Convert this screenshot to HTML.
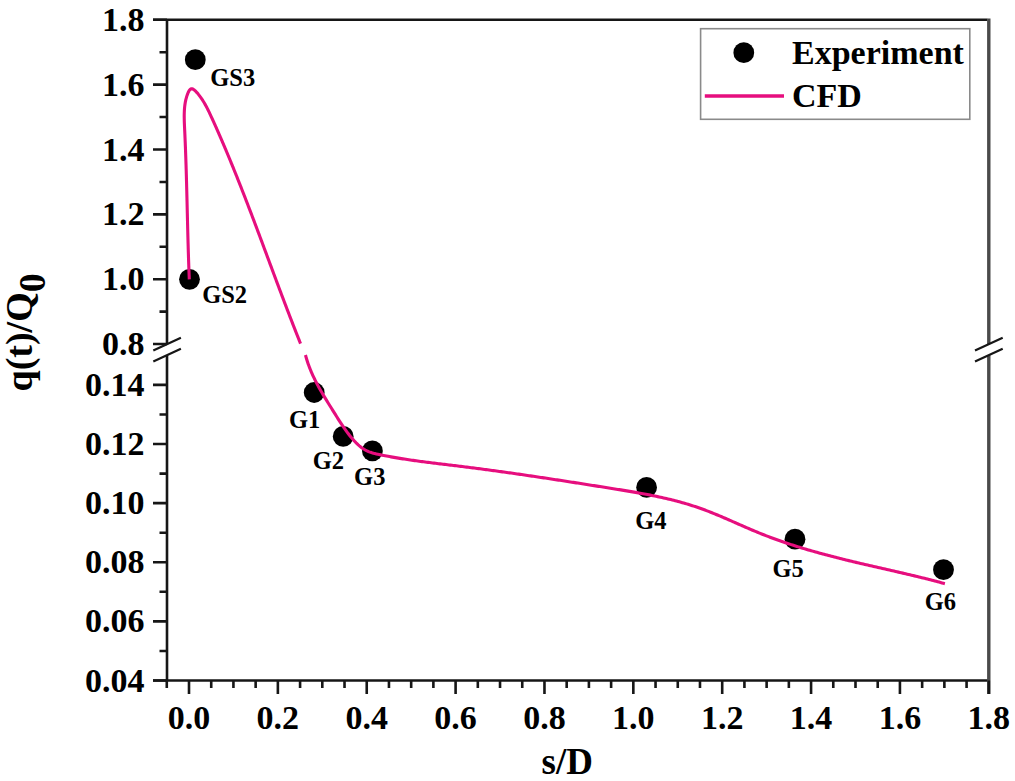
<!DOCTYPE html>
<html><head><meta charset="utf-8"><style>
html,body{margin:0;padding:0;background:#fff;}
body{width:1015px;height:781px;overflow:hidden;}
svg{display:block;}
text{font-family:"Liberation Serif", serif;font-weight:bold;fill:#000;}
.tl{font-size:34px;}
.at{font-size:37px;}
.sub{font-size:38px;}
.yt{font-size:38px;}
.pl{font-size:24.5px;}
.lg{font-size:34px;}
</style></head><body>
<svg width="1015" height="781" viewBox="0 0 1015 781">
<rect width="1015" height="781" fill="#fff"/>
<path d="M153 19.80 H987.30" fill="none" stroke="#161616" stroke-width="2.6"/>
<path d="M988.80 18.50 V344.05" fill="none" stroke="#4a4a4a" stroke-width="3.4"/>
<path d="M167.00 19.80 V344.05" fill="none" stroke="#161616" stroke-width="2.6"/>
<path d="M167.00 355.34 V680.50" fill="none" stroke="#161616" stroke-width="2.6"/>
<path d="M153 680.50 H988.80" fill="none" stroke="#161616" stroke-width="2.6"/>
<path d="M988.80 355.34 V694" fill="none" stroke="#4a4a4a" stroke-width="3.4"/>
<path d="M153 19.80 H167.00 M153 84.65 H167.00 M153 149.50 H167.00 M153 214.35 H167.00 M153 279.20 H167.00 M153 344.05 H167.00 M159.5 52.23 H167.00 M159.5 117.07 H167.00 M159.5 181.93 H167.00 M159.5 246.78 H167.00 M159.5 311.62 H167.00 M153 384.90 H167.00 M153 444.02 H167.00 M153 503.14 H167.00 M153 562.26 H167.00 M153 621.38 H167.00 M153 680.50 H167.00 M159.5 414.46 H167.00 M159.5 473.58 H167.00 M159.5 532.70 H167.00 M159.5 591.82 H167.00 M159.5 650.94 H167.00" fill="none" stroke="#161616" stroke-width="2.6"/>
<path d="M166.78 680.50 V688 M189.00 680.50 V694 M211.22 680.50 V688 M233.43 680.50 V688 M255.65 680.50 V688 M277.87 680.50 V694 M300.08 680.50 V688 M322.30 680.50 V688 M344.52 680.50 V688 M366.73 680.50 V694 M388.95 680.50 V688 M411.17 680.50 V688 M433.38 680.50 V688 M455.60 680.50 V694 M477.82 680.50 V688 M500.03 680.50 V688 M522.25 680.50 V688 M544.47 680.50 V694 M566.68 680.50 V688 M588.90 680.50 V688 M611.12 680.50 V688 M633.33 680.50 V694 M655.55 680.50 V688 M677.77 680.50 V688 M699.98 680.50 V688 M722.20 680.50 V694 M744.42 680.50 V688 M766.63 680.50 V688 M788.85 680.50 V688 M811.07 680.50 V694 M833.28 680.50 V688 M855.50 680.50 V688 M877.72 680.50 V688 M899.93 680.50 V694 M922.15 680.50 V688 M944.37 680.50 V688 M966.58 680.50 V688 M988.80 680.50 V694" fill="none" stroke="#161616" stroke-width="2.6"/>
<path d="M153.3 350.6 L180.9 337.8 M153.3 361.5 L180.9 348.7" fill="none" stroke="#161616" stroke-width="2.2"/>
<path d="M975.0 350.6 L1002.7 337.8 M975.0 361.5 L1002.7 348.7" fill="none" stroke="#161616" stroke-width="2.2"/>
<text x="144.5" y="30.80" text-anchor="end" class="tl">1.8</text>
<text x="144.5" y="95.65" text-anchor="end" class="tl">1.6</text>
<text x="144.5" y="160.50" text-anchor="end" class="tl">1.4</text>
<text x="144.5" y="225.35" text-anchor="end" class="tl">1.2</text>
<text x="144.5" y="290.20" text-anchor="end" class="tl">1.0</text>
<text x="144.5" y="355.05" text-anchor="end" class="tl">0.8</text>
<text x="144.5" y="395.90" text-anchor="end" class="tl">0.14</text>
<text x="144.5" y="455.02" text-anchor="end" class="tl">0.12</text>
<text x="144.5" y="514.14" text-anchor="end" class="tl">0.10</text>
<text x="144.5" y="573.26" text-anchor="end" class="tl">0.08</text>
<text x="144.5" y="632.38" text-anchor="end" class="tl">0.06</text>
<text x="144.5" y="691.50" text-anchor="end" class="tl">0.04</text>
<text x="189.00" y="728.5" text-anchor="middle" class="tl">0.0</text>
<text x="277.87" y="728.5" text-anchor="middle" class="tl">0.2</text>
<text x="366.73" y="728.5" text-anchor="middle" class="tl">0.4</text>
<text x="455.60" y="728.5" text-anchor="middle" class="tl">0.6</text>
<text x="544.47" y="728.5" text-anchor="middle" class="tl">0.8</text>
<text x="633.33" y="728.5" text-anchor="middle" class="tl">1.0</text>
<text x="722.20" y="728.5" text-anchor="middle" class="tl">1.2</text>
<text x="811.07" y="728.5" text-anchor="middle" class="tl">1.4</text>
<text x="899.93" y="728.5" text-anchor="middle" class="tl">1.6</text>
<text x="988.80" y="728.5" text-anchor="middle" class="tl">1.8</text>
<text x="567.3" y="773.9" text-anchor="middle" class="at">s/D</text>
<text transform="translate(31.5 391.5) rotate(-90)" class="yt">q(t)/Q<tspan class="sub" dy="13">0</tspan></text>
<circle cx="195.3" cy="59.7" r="10.4" fill="#000"/>
<circle cx="189.5" cy="279.3" r="10.4" fill="#000"/>
<circle cx="314.2" cy="392.5" r="10.4" fill="#000"/>
<circle cx="343.2" cy="436.4" r="10.4" fill="#000"/>
<circle cx="372.4" cy="450.9" r="10.4" fill="#000"/>
<circle cx="646.6" cy="487.4" r="10.4" fill="#000"/>
<circle cx="795.0" cy="539.2" r="10.4" fill="#000"/>
<circle cx="943.5" cy="569.7" r="10.4" fill="#000"/>
<text x="210.3" y="85.9" class="pl">GS3</text>
<text x="202.2" y="303.2" class="pl">GS2</text>
<text x="288.9" y="428.4" class="pl">G1</text>
<text x="312.7" y="469.0" class="pl">G2</text>
<text x="354.1" y="485.1" class="pl">G3</text>
<text x="635.2" y="528.5" class="pl">G4</text>
<text x="772.4" y="576.5" class="pl">G5</text>
<text x="924.8" y="609.6" class="pl">G6</text>
<path d="M189.29 279.43 L189.23 277.90 L189.17 276.36 L189.11 274.83 L189.05 273.30 L188.99 271.78 L188.94 270.25 L188.88 268.73 L188.83 267.21 L188.77 265.69 L188.72 264.17 L188.67 262.66 L188.62 261.14 L188.57 259.63 L188.52 258.12 L188.47 256.61 L188.43 255.11 L188.38 253.60 L188.33 252.10 L188.29 250.60 L188.24 249.10 L188.20 247.60 L188.16 246.10 L188.12 244.60 L188.07 243.11 L188.03 241.61 L187.99 240.12 L187.95 238.63 L187.91 237.14 L187.87 235.65 L187.83 234.16 L187.80 232.68 L187.76 231.19 L187.72 229.70 L187.68 228.22 L187.64 226.73 L187.61 225.25 L187.57 223.77 L187.53 222.29 L187.50 220.80 L187.46 219.32 L187.43 217.84 L187.39 216.36 L187.36 214.88 L187.32 213.40 L187.28 211.92 L187.25 210.44 L187.21 208.97 L187.18 207.49 L187.14 206.01 L187.11 204.53 L187.07 203.05 L187.04 201.57 L187.00 200.09 L186.96 198.61 L186.93 197.13 L186.89 195.66 L186.85 194.18 L186.82 192.70 L186.78 191.22 L186.74 189.73 L186.70 188.25 L186.66 186.77 L186.62 185.29 L186.59 183.81 L186.55 182.32 L186.50 180.84 L186.46 179.35 L186.42 177.87 L186.38 176.38 L186.34 174.89 L186.29 173.40 L186.25 171.91 L186.21 170.42 L186.16 168.93 L186.11 167.43 L186.07 165.94 L186.02 164.44 L185.97 162.95 L185.92 161.45 L185.87 159.95 L185.82 158.45 L185.77 156.95 L185.72 155.44 L185.66 153.94 L185.61 152.43 L185.55 150.92 L185.50 149.41 L185.44 147.90 L185.38 146.38 L185.32 144.87 L185.26 143.35 L185.20 141.83 L185.13 140.30 L185.07 138.78 L185.00 137.25 L184.94 135.73 L184.87 134.20 L184.80 132.66 L184.73 131.13 L184.65 129.59 L184.58 128.05 L184.51 126.51 L184.44 124.97 L184.38 123.43 L184.32 121.89 L184.28 120.35 L184.25 118.81 L184.23 117.28 L184.22 115.75 L184.24 114.23 L184.28 112.71 L184.34 111.20 L184.42 109.69 L184.54 108.20 L184.68 106.71 L184.85 105.24 L185.06 103.77 L185.30 102.31 L185.58 100.87 L185.90 99.44 L186.27 98.03 L186.67 96.63 L187.13 95.24 L187.63 93.87 L188.18 92.52 L188.80 91.27 L189.47 90.18 L190.22 89.34 L191.04 88.84 L191.95 88.76 L192.93 89.07 L193.97 89.71 L195.03 90.60 L196.10 91.68 L197.16 92.87 L198.19 94.10 L199.18 95.35 L200.12 96.61 L201.03 97.88 L201.91 99.16 L202.76 100.45 L203.57 101.75 L204.36 103.07 L205.12 104.39 L205.86 105.71 L206.58 107.05 L207.27 108.39 L207.95 109.74 L208.62 111.09 L209.27 112.44 L209.92 113.80 L210.55 115.16 L211.18 116.53 L211.80 117.89 L212.43 119.26 L213.05 120.62 L213.66 121.99 L214.28 123.36 L214.89 124.73 L215.51 126.10 L216.12 127.47 L216.72 128.84 L217.33 130.21 L217.94 131.58 L218.54 132.95 L219.14 134.32 L219.74 135.70 L220.34 137.07 L220.93 138.45 L221.53 139.82 L222.12 141.20 L222.71 142.58 L223.30 143.95 L223.89 145.33 L224.48 146.71 L225.06 148.09 L225.65 149.47 L226.23 150.85 L226.81 152.23 L227.39 153.61 L227.96 154.99 L228.54 156.37 L229.11 157.76 L229.69 159.14 L230.26 160.52 L230.83 161.91 L231.40 163.29 L231.96 164.68 L232.53 166.06 L233.10 167.45 L233.66 168.84 L234.22 170.22 L234.78 171.61 L235.34 173.00 L235.90 174.39 L236.46 175.78 L237.02 177.17 L237.57 178.56 L238.12 179.95 L238.68 181.34 L239.23 182.73 L239.78 184.12 L240.33 185.51 L240.88 186.90 L241.43 188.29 L241.97 189.69 L242.52 191.08 L243.06 192.47 L243.61 193.87 L244.15 195.26 L244.69 196.66 L245.23 198.05 L245.77 199.45 L246.31 200.84 L246.85 202.24 L247.39 203.63 L247.93 205.03 L248.46 206.43 L249.00 207.82 L249.54 209.22 L250.07 210.62 L250.60 212.02 L251.14 213.41 L251.67 214.81 L252.20 216.21 L252.73 217.61 L253.26 219.01 L253.79 220.41 L254.32 221.81 L254.85 223.21 L255.38 224.61 L255.91 226.01 L256.43 227.41 L256.96 228.81 L257.49 230.21 L258.01 231.61 L258.54 233.01 L259.07 234.41 L259.59 235.81 L260.12 237.21 L260.64 238.61 L261.16 240.01 L261.69 241.42 L262.21 242.82 L262.74 244.22 L263.26 245.62 L263.78 247.02 L264.30 248.43 L264.83 249.83 L265.35 251.23 L265.87 252.63 L266.40 254.03 L266.92 255.44 L267.44 256.84 L267.96 258.24 L268.48 259.64 L269.01 261.05 L269.53 262.45 L270.05 263.85 L270.57 265.25 L271.10 266.66 L271.62 268.06 L272.14 269.46 L272.66 270.87 L273.19 272.27 L273.71 273.67 L274.23 275.07 L274.76 276.48 L275.28 277.88 L275.81 279.28 L276.33 280.68 L276.86 282.08 L277.38 283.49 L277.91 284.89 L278.43 286.29 L278.96 287.69 L279.48 289.09 L280.01 290.50 L280.54 291.90 L281.07 293.30 L281.59 294.70 L282.12 296.10 L282.65 297.50 L283.18 298.90 L283.71 300.30 L284.24 301.70 L284.78 303.10 L285.31 304.50 L285.84 305.90 L286.37 307.30 L286.91 308.70 L287.44 310.10 L287.98 311.50 L288.51 312.90 L289.05 314.30 L289.59 315.70 L290.13 317.09 L290.67 318.49 L291.21 319.89 L291.75 321.29 L292.29 322.68 L292.83 324.08 L293.38 325.48 L293.92 326.87 L294.47 328.27 L295.01 329.67 L295.56 331.06 L296.11 332.46 L296.66 333.85 L297.21 335.25 L297.76 336.64 L298.31 338.03 L298.87 339.43 L299.42 340.82 L299.98 342.21 L300.53 343.60" fill="none" stroke="#e60e7e" stroke-width="3.1" stroke-linecap="butt" stroke-linejoin="round"/>
<path d="M305.50 355.02 L305.90 356.53 L306.32 358.03 L306.76 359.51 L307.22 360.98 L307.70 362.44 L308.19 363.88 L308.70 365.31 L309.22 366.73 L309.76 368.14 L310.31 369.54 L310.88 370.92 L311.46 372.30 L312.06 373.67 L312.67 375.02 L313.29 376.37 L313.92 377.71 L314.57 379.05 L315.22 380.37 L315.89 381.69 L316.57 383.00 L317.26 384.31 L317.95 385.61 L318.66 386.90 L319.37 388.19 L320.10 389.48 L320.83 390.76 L321.57 392.03 L322.31 393.31 L323.07 394.58 L323.83 395.85 L324.59 397.12 L325.36 398.39 L326.13 399.66 L326.91 400.92 L327.69 402.19 L328.48 403.45 L329.27 404.72 L330.06 405.99 L330.85 407.26 L331.65 408.54 L332.45 409.81 L333.24 411.09 L334.04 412.37 L334.84 413.66 L335.64 414.94 L336.45 416.23 L337.26 417.52 L338.07 418.81 L338.88 420.09 L339.70 421.37 L340.53 422.65 L341.36 423.92 L342.20 425.19 L343.05 426.45 L343.91 427.70 L344.78 428.94 L345.65 430.17 L346.54 431.40 L347.44 432.61 L348.35 433.81 L349.27 434.99 L350.21 436.16 L351.16 437.32 L352.13 438.46 L353.11 439.58 L354.10 440.68 L355.12 441.77 L356.15 442.83 L357.21 443.86 L358.28 444.87 L359.38 445.83 L360.50 446.76 L361.66 447.65 L362.83 448.49 L364.04 449.28 L365.29 450.01 L366.56 450.68 L367.87 451.30 L369.21 451.85 L370.59 452.35 L371.99 452.80 L373.41 453.21 L374.85 453.58 L376.30 453.93 L377.76 454.25 L379.23 454.57 L380.70 454.87 L382.17 455.17 L383.65 455.46 L385.12 455.75 L386.59 456.03 L388.07 456.31 L389.55 456.59 L391.02 456.85 L392.50 457.12 L393.98 457.38 L395.46 457.63 L396.94 457.88 L398.42 458.13 L399.90 458.37 L401.38 458.61 L402.86 458.85 L404.35 459.08 L405.83 459.31 L407.31 459.53 L408.80 459.75 L410.28 459.97 L411.77 460.19 L413.25 460.40 L414.74 460.61 L416.22 460.81 L417.71 461.02 L419.20 461.22 L420.68 461.42 L422.17 461.62 L423.66 461.81 L425.15 462.00 L426.63 462.20 L428.12 462.39 L429.61 462.57 L431.10 462.76 L432.59 462.95 L434.08 463.13 L435.57 463.31 L437.05 463.50 L438.54 463.68 L440.03 463.86 L441.52 464.04 L443.01 464.22 L444.50 464.39 L445.99 464.57 L447.48 464.75 L448.96 464.93 L450.45 465.11 L451.94 465.29 L453.43 465.47 L454.92 465.65 L456.40 465.83 L457.89 466.01 L459.38 466.19 L460.86 466.37 L462.35 466.56 L463.84 466.74 L465.32 466.93 L466.81 467.11 L468.29 467.30 L469.78 467.49 L471.26 467.68 L472.75 467.87 L474.23 468.06 L475.71 468.25 L477.20 468.45 L478.68 468.64 L480.16 468.83 L481.65 469.03 L483.13 469.22 L484.61 469.42 L486.09 469.62 L487.58 469.82 L489.06 470.02 L490.54 470.22 L492.02 470.42 L493.50 470.62 L494.98 470.82 L496.46 471.02 L497.95 471.23 L499.43 471.43 L500.91 471.64 L502.39 471.84 L503.87 472.05 L505.35 472.26 L506.83 472.47 L508.31 472.67 L509.79 472.88 L511.27 473.09 L512.74 473.31 L514.22 473.52 L515.70 473.73 L517.18 473.94 L518.66 474.15 L520.14 474.37 L521.62 474.58 L523.10 474.80 L524.58 475.01 L526.05 475.23 L527.53 475.45 L529.01 475.66 L530.49 475.88 L531.97 476.10 L533.45 476.32 L534.92 476.54 L536.40 476.76 L537.88 476.98 L539.36 477.20 L540.84 477.42 L542.31 477.64 L543.79 477.86 L545.27 478.09 L546.75 478.31 L548.23 478.53 L549.70 478.76 L551.18 478.98 L552.66 479.21 L554.14 479.43 L555.62 479.66 L557.09 479.89 L558.57 480.11 L560.05 480.34 L561.53 480.57 L563.01 480.80 L564.49 481.02 L565.96 481.25 L567.44 481.48 L568.92 481.71 L570.40 481.94 L571.88 482.17 L573.36 482.40 L574.84 482.63 L576.32 482.86 L577.79 483.09 L579.27 483.32 L580.75 483.56 L582.23 483.79 L583.71 484.02 L585.19 484.25 L586.67 484.48 L588.15 484.72 L589.63 484.95 L591.11 485.18 L592.59 485.42 L594.07 485.65 L595.55 485.88 L597.04 486.12 L598.52 486.35 L600.00 486.59 L601.48 486.82 L602.96 487.06 L604.44 487.29 L605.93 487.52 L607.41 487.76 L608.89 487.99 L610.37 488.23 L611.86 488.47 L613.34 488.70 L614.82 488.94 L616.31 489.17 L617.79 489.41 L619.27 489.65 L620.76 489.89 L622.24 490.13 L623.72 490.37 L625.20 490.62 L626.69 490.86 L628.17 491.11 L629.65 491.36 L631.13 491.61 L632.61 491.86 L634.09 492.12 L635.57 492.37 L637.05 492.63 L638.53 492.90 L640.01 493.16 L641.48 493.43 L642.96 493.70 L644.43 493.97 L645.91 494.25 L647.38 494.53 L648.85 494.82 L650.32 495.11 L651.79 495.40 L653.26 495.69 L654.73 495.99 L656.20 496.30 L657.66 496.61 L659.13 496.92 L660.59 497.24 L662.05 497.56 L663.51 497.89 L664.97 498.22 L666.43 498.56 L667.88 498.90 L669.34 499.25 L670.79 499.60 L672.24 499.96 L673.69 500.32 L675.14 500.69 L676.58 501.07 L678.02 501.45 L679.46 501.84 L680.90 502.24 L682.34 502.64 L683.78 503.05 L685.21 503.46 L686.64 503.89 L688.07 504.32 L689.49 504.75 L690.92 505.20 L692.34 505.65 L693.76 506.11 L695.18 506.57 L696.59 507.05 L698.00 507.53 L699.41 508.02 L700.82 508.52 L702.22 509.03 L703.62 509.54 L705.02 510.07 L706.42 510.59 L707.82 511.13 L709.21 511.67 L710.60 512.22 L711.99 512.77 L713.38 513.33 L714.76 513.89 L716.15 514.46 L717.53 515.04 L718.91 515.61 L720.30 516.19 L721.68 516.78 L723.05 517.37 L724.43 517.96 L725.81 518.55 L727.18 519.15 L728.56 519.75 L729.93 520.35 L731.31 520.95 L732.68 521.55 L734.06 522.16 L735.43 522.76 L736.80 523.36 L738.18 523.97 L739.55 524.57 L740.93 525.18 L742.30 525.78 L743.68 526.38 L745.05 526.98 L746.43 527.58 L747.80 528.17 L749.18 528.77 L750.56 529.36 L751.94 529.95 L753.32 530.53 L754.70 531.11 L756.09 531.69 L757.47 532.26 L758.86 532.83 L760.24 533.39 L761.63 533.95 L763.02 534.50 L764.42 535.05 L765.81 535.59 L767.21 536.13 L768.60 536.67 L770.00 537.19 L771.40 537.72 L772.81 538.24 L774.21 538.75 L775.62 539.26 L777.02 539.77 L778.43 540.27 L779.84 540.77 L781.25 541.26 L782.66 541.75 L784.08 542.24 L785.49 542.72 L786.91 543.19 L788.32 543.66 L789.74 544.13 L791.16 544.60 L792.58 545.06 L794.01 545.51 L795.43 545.97 L796.86 546.42 L798.28 546.86 L799.71 547.31 L801.14 547.74 L802.57 548.18 L804.00 548.61 L805.43 549.04 L806.86 549.47 L808.30 549.89 L809.73 550.31 L811.17 550.72 L812.60 551.13 L814.04 551.54 L815.48 551.95 L816.92 552.36 L818.36 552.76 L819.80 553.15 L821.24 553.55 L822.69 553.94 L824.13 554.33 L825.57 554.72 L827.02 555.11 L828.47 555.49 L829.91 555.87 L831.36 556.25 L832.81 556.62 L834.26 557.00 L835.71 557.37 L837.16 557.74 L838.61 558.10 L840.06 558.47 L841.51 558.83 L842.97 559.19 L844.42 559.55 L845.87 559.91 L847.33 560.27 L848.78 560.62 L850.24 560.97 L851.69 561.32 L853.15 561.67 L854.61 562.02 L856.06 562.37 L857.52 562.71 L858.98 563.06 L860.44 563.40 L861.90 563.74 L863.35 564.08 L864.81 564.42 L866.27 564.76 L867.73 565.10 L869.19 565.43 L870.65 565.77 L872.11 566.11 L873.57 566.44 L875.03 566.78 L876.49 567.11 L877.95 567.44 L879.41 567.78 L880.88 568.11 L882.34 568.44 L883.80 568.78 L885.26 569.11 L886.72 569.44 L888.18 569.78 L889.64 570.11 L891.10 570.44 L892.56 570.78 L894.02 571.11 L895.48 571.45 L896.94 571.78 L898.40 572.12 L899.86 572.46 L901.32 572.79 L902.78 573.13 L904.24 573.47 L905.69 573.81 L907.15 574.15 L908.61 574.50 L910.07 574.84 L911.52 575.19 L912.98 575.53 L914.44 575.88 L915.89 576.23 L917.35 576.58 L918.80 576.94 L920.26 577.29 L921.71 577.65 L923.16 578.01 L924.62 578.37 L926.07 578.73 L927.52 579.10 L928.97 579.46 L930.42 579.83 L931.87 580.20 L933.32 580.58 L934.77 580.95 L936.21 581.33 L937.66 581.71 L939.10 582.10 L940.55 582.49 L941.99 582.88 L943.44 583.27 L944.88 583.67" fill="none" stroke="#e60e7e" stroke-width="3.1" stroke-linecap="butt" stroke-linejoin="round"/>
<rect x="700.6" y="28.7" width="269.2" height="90.6" fill="#fff" stroke="#8a8a8a" stroke-width="1.6"/>
<circle cx="743.8" cy="52.7" r="10.4" fill="#000"/>
<path d="M704.8 96 H784" stroke="#e60e7e" stroke-width="3.4"/>
<text x="792" y="64.4" class="lg">Experiment</text>
<text x="792" y="107.3" class="lg">CFD</text>
</svg>
</body></html>
